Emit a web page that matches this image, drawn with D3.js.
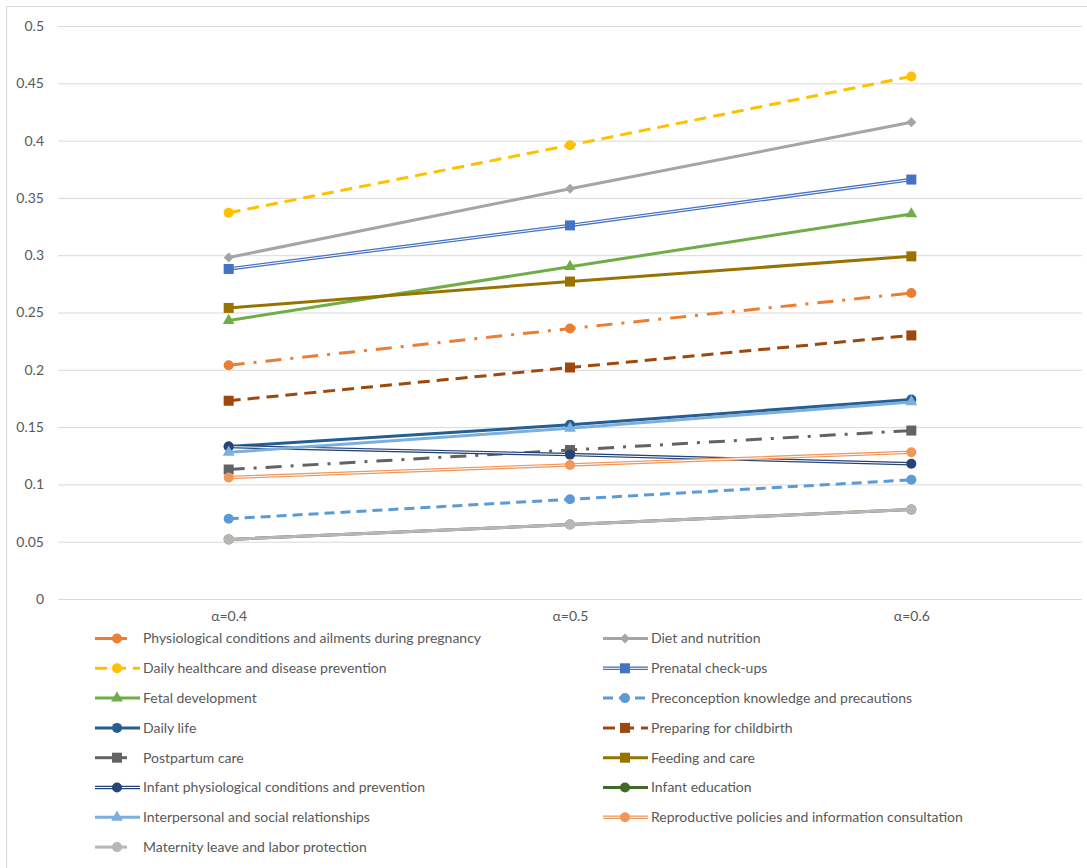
<!DOCTYPE html>
<html>
<head>
<meta charset="utf-8">
<script src="https://cdn.jsdelivr.net/npm/d3@7"></script>
<style>
    body { margin: 0; background: #fff; }
    text { font-family: Lato, "Open Sans", sans-serif; fill: #595959; }
</style>
</head>
<body>
<div id="chart-area"></div>
<script>
// categories on the x axis
var categories = ["α=0.4", "α=0.5", "α=0.6"];
var yTicks = [0, 0.05, 0.1, 0.15, 0.2, 0.25, 0.3, 0.35, 0.4, 0.45, 0.5];

// series values
var physiological = [0.204, 0.236, 0.267];
var dietNutrition = [0.298, 0.358, 0.416];
var dailyHealthcare = [0.337, 0.396, 0.456];
var prenatalCheckups = [0.288, 0.326, 0.366];
var fetalDevelopment = [0.243, 0.290, 0.336];
var preconception = [0.070, 0.087, 0.104];
var dailyLife = [0.133, 0.152, 0.174];
var preparingChildbirth = [0.173, 0.202, 0.230];
var postpartumCare = [0.113, 0.130, 0.147];
var feedingCare = [0.254, 0.277, 0.299];
var infantPhysiological = [0.133, 0.126, 0.118];
var infantEducation = [0.052, 0.065, 0.078];
var interpersonal = [0.128, 0.149, 0.172];
var reproductivePolicies = [0.106, 0.117, 0.128];
var maternityLeave = [0.052, 0.065, 0.078];

var seriesNames = [
    "Physiological conditions and ailments during pregnancy",
    "Diet and nutrition",
    "Daily healthcare and disease prevention",
    "Prenatal check-ups",
    "Fetal development",
    "Preconception knowledge and precautions",
    "Daily life",
    "Preparing for childbirth",
    "Postpartum care",
    "Feeding and care",
    "Infant physiological conditions and prevention",
    "Infant education",
    "Interpersonal and social relationships",
    "Reproductive policies and information consultation",
    "Maternity leave and labor protection"
];
var seriesValues = [physiological, dietNutrition, dailyHealthcare, prenatalCheckups,
    fetalDevelopment, preconception, dailyLife, preparingChildbirth, postpartumCare,
    feedingCare, infantPhysiological, infantEducation, interpersonal,
    reproductivePolicies, maternityLeave];

// styling for each series (same order); short = Excel clips the legend sample
var seriesStyles = [
    { color: "#ED7D31", width: 3, dash: "16,9,3,9", marker: "circle", double: false, short: true },
    { color: "#A5A5A5", width: 3, dash: null, marker: "diamond", double: false },
    { color: "#FFC000", width: 3, dash: "12,7", marker: "circle", double: false },
    { color: "#4472C4", width: 3.5, dash: null, marker: "square", double: true },
    { color: "#70AD47", width: 3, dash: null, marker: "triangle", double: false },
    { color: "#5B9BD5", width: 3, dash: "10,6", marker: "circle", double: false },
    { color: "#255E91", width: 3, dash: null, marker: "circle", double: false },
    { color: "#9E480E", width: 3, dash: "12,7", marker: "square", double: false },
    { color: "#636363", width: 3, dash: "16,9,3,9", marker: "square", double: false, short: true },
    { color: "#997300", width: 3, dash: null, marker: "square", double: false },
    { color: "#264478", width: 3.5, dash: null, marker: "circle", double: true },
    { color: "#43682B", width: 3, dash: null, marker: "circle", double: false },
    { color: "#7CAFDD", width: 3, dash: null, marker: "triangle", double: false },
    { color: "#F1975A", width: 3.5, dash: null, marker: "circle", double: true },
    { color: "#B7B7B7", width: 3, dash: null, marker: "circle", double: false, short: true }
];

LineChart = function(_parentElement, _data) {
    this.parentElement = _parentElement;
    this.data = _data;

    this.initVis();
}

LineChart.prototype.initVis = function() {
    var vis = this;

    vis.totalWidth = 1087;
    vis.totalHeight = 868;
    vis.margin = { top: 26, right: 5, bottom: 269, left: 58 };
    vis.width = vis.totalWidth - vis.margin.left - vis.margin.right;
    vis.height = vis.totalHeight - vis.margin.top - vis.margin.bottom;

    vis.root = d3.select("#" + vis.parentElement).append("svg")
        .attr("width", vis.totalWidth)
        .attr("height", vis.totalHeight);

    // chart border
    vis.root.append("rect")
        .attr("x", 6.5)
        .attr("y", 6.5)
        .attr("width", vis.totalWidth)
        .attr("height", vis.totalHeight)
        .attr("fill", "none")
        .attr("stroke", "#d9d9d9");

    vis.svg = vis.root.append("g")
        .attr("transform", "translate(" + vis.margin.left + "," + vis.margin.top + ")");

    // scales and axes
    vis.x = d3.scalePoint()
        .domain(categories)
        .range([0, vis.width])
        .padding(0.5);
    vis.y = d3.scaleLinear()
        .domain([0, 0.5])
        .range([vis.height, 0]);

    vis.yAxis = d3.axisLeft(vis.y)
        .tickValues(yTicks)
        .tickSize(-vis.width)
        .tickPadding(14)
        .tickFormat(function(d) { return String(+d.toFixed(2)); });
    vis.xAxis = d3.axisBottom(vis.x)
        .tickSize(0)
        .tickPadding(12);

    vis.wrangleData();
}

LineChart.prototype.wrangleData = function() {
    var vis = this;

    vis.series = vis.data.names.map(function(name, i) {
        return { name: name, values: vis.data.values[i], style: vis.data.styles[i] };
    });

    vis.updateVis();
}

LineChart.prototype.drawMarker = function(g, style, cx, cy) {
    if (style.marker === "circle") {
        g.append("circle").attr("cx", cx).attr("cy", cy).attr("r", 5)
            .attr("fill", style.color);
    } else if (style.marker === "square") {
        g.append("rect").attr("x", cx - 5).attr("y", cy - 5)
            .attr("width", 10).attr("height", 10).attr("fill", style.color);
    } else if (style.marker === "triangle") {
        g.append("path").attr("transform", "translate(" + cx + "," + cy + ")")
            .attr("d", d3.symbol().type(d3.symbolTriangle).size(60)())
            .attr("fill", style.color);
    } else if (style.marker === "diamond") {
        g.append("path").attr("transform", "translate(" + cx + "," + cy + ")")
            .attr("d", "M0,-5L5,0L0,5L-5,0Z")
            .attr("fill", style.color);
    }
}

LineChart.prototype.updateVis = function() {
    var vis = this;

    // gridlines + y labels
    var yG = vis.svg.append("g")
        .attr("class", "y-axis axis")
        .call(vis.yAxis);
    yG.select(".domain").remove();
    yG.selectAll(".tick line").attr("stroke", "#d9d9d9").attr("stroke-width", 1);
    yG.selectAll(".tick text").style("font-size", "14px").attr("fill", "#595959");

    // x labels
    var xG = vis.svg.append("g")
        .attr("class", "x-axis axis")
        .attr("transform", "translate(0," + vis.height + ")")
        .call(vis.xAxis);
    xG.select(".domain").remove();
    xG.selectAll(".tick text").style("font-size", "14px").attr("fill", "#595959");

    var line = d3.line()
        .x(function(d, i) { return vis.x(categories[i]); })
        .y(function(d) { return vis.y(d); });

    // lines
    vis.series.forEach(function(s) {
        var g = vis.svg.append("g").attr("class", "series");
        g.append("path")
            .attr("d", line(s.values))
            .attr("fill", "none")
            .attr("stroke", s.style.color)
            .attr("stroke-width", s.style.width)
            .attr("stroke-dasharray", s.style.dash);
        if (s.style.double) {
            g.append("path")
                .attr("d", line(s.values))
                .attr("fill", "none")
                .attr("stroke", "#fff")
                .attr("stroke-width", 1);
        }
        s.values.forEach(function(v, i) {
            vis.drawMarker(g, s.style, vis.x(categories[i]), vis.y(v));
        });
    });

    // legend, two columns
    var legend = vis.root.append("g").attr("class", "legend");
    vis.series.forEach(function(s, i) {
        var col = i % 2, row = Math.floor(i / 2);
        var lx = col === 0 ? 95 : 603;
        var ly = 638.5 + row * 29.8;
        var len = s.style.short ? 32 : 45;
        var item = legend.append("g");
        item.append("line")
            .attr("x1", lx).attr("x2", lx + len)
            .attr("y1", ly).attr("y2", ly)
            .attr("stroke", s.style.color)
            .attr("stroke-width", s.style.width)
            .attr("stroke-dasharray", s.style.short ? null : s.style.dash);
        if (s.style.double) {
            item.append("line")
                .attr("x1", lx).attr("x2", lx + len)
                .attr("y1", ly).attr("y2", ly)
                .attr("stroke", "#fff").attr("stroke-width", 1);
        }
        vis.drawMarker(item, s.style, lx + 22, ly);
        item.append("text")
            .attr("x", lx + 48)
            .attr("y", ly)
            .attr("dy", "0.35em")
            .style("font-size", "14px")
            .text(s.name);
    });
}

var chart = new LineChart("chart-area", {
    names: seriesNames,
    values: seriesValues,
    styles: seriesStyles
});
</script>
</body>
</html>
